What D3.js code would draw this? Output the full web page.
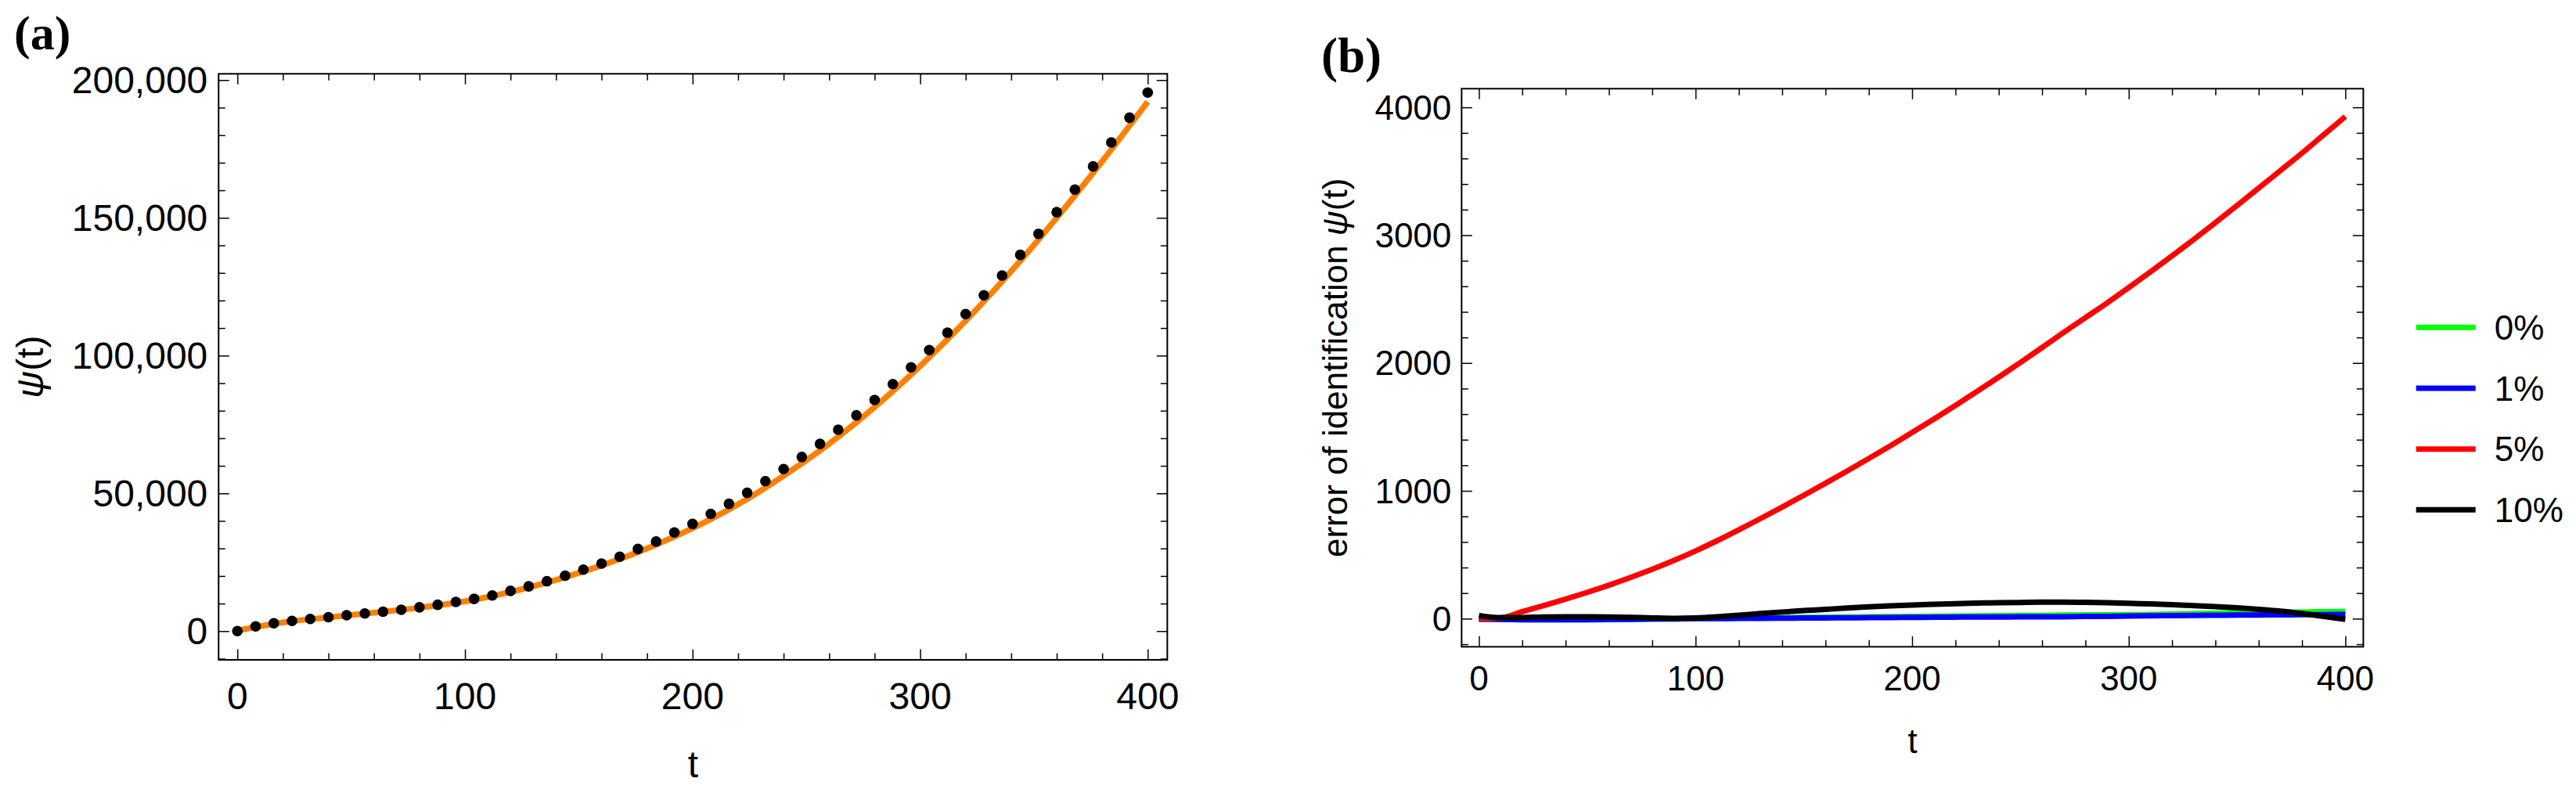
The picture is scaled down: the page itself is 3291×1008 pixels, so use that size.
<!DOCTYPE html>
<html>
<head>
<meta charset="utf-8">
<script src="https://cdn.jsdelivr.net/npm/d3@7"></script>
<style>
  html, body { margin: 0; padding: 0; background: #fff; }
  svg { display: block; }
</style>
</head>
<body>
<div id="chart"></div>
<script>
// ---------- data ----------
// panel (a): measured points every 8 time units
const dotT = [0, 8, 16, 24, 32, 40, 48, 56, 64, 72, 80, 88, 96, 104, 112, 120, 128, 136, 144, 152,
  160, 168, 176, 184, 192, 200, 208, 216, 224, 232, 240, 248, 256, 264, 272, 280, 288, 296, 304, 312,
  320, 328, 336, 344, 352, 360, 368, 376, 384, 392, 400];
const dotPsi = [0, 1700, 2850, 3700, 4400, 5050, 5750, 6400, 7050, 7750, 8650, 9550, 10600, 11700, 12950,
  14600, 16250, 18100, 20100, 22300, 24500, 27000, 29800, 32500, 35800, 38900, 42550, 46200, 50200,
  54400, 58800, 63200, 67950, 73100, 78300, 83900, 89650, 95750, 102000, 108300, 115050, 121900,
  129050, 136550, 144200, 152050, 160250, 168650, 177350, 186350, 195450];

// panel (a): identified model curve
const fitT = [0, 20, 40, 60, 80, 100, 120, 140, 160, 180, 200, 220, 240, 260, 280, 300, 320, 340, 360, 380, 400];
const fitPsi = [200, 3150, 5000, 6700, 8500, 10800, 14200, 18600, 23800, 30000, 37300, 46000, 56400,
  68000, 81300, 96200, 112600, 130600, 150000, 170500, 192100];

// panel (b): identification error for each noise level
const errT = [0, 10, 20, 30, 40, 50, 60, 70, 80, 90, 100, 110, 120, 130, 140, 150, 160, 170, 180, 190,
  200, 210, 220, 230, 240, 250, 260, 270, 280, 290, 300, 310, 320, 330, 340, 350, 360, 370, 380, 390, 400];
const err0 = [-4, -6, -8, -9, -9, -9, -8, -6, -4, -2, 0, 2, 4, 6, 8, 10, 11, 13, 14, 16,
  17, 19, 20, 22, 23, 25, 26, 28, 29, 30, 31, 33, 36, 39, 42, 45, 47, 50, 52, 55, 57];
const err1 = [-4, -6, -8, -9, -9, -8, -6, -5, -3, -2, 0, 1, 2, 3, 4, 5, 6, 7, 8, 9,
  10, 11, 12, 13, 13, 14, 14, 15, 17, 18, 20, 22, 24, 26, 27, 28, 29, 30, 31, 32, 33];
const err5 = [0, 6, 55, 103, 153, 206, 262, 322, 386, 455, 530, 610, 695, 783, 873, 965, 1059, 1155,
  1253, 1353, 1456, 1561, 1668, 1778, 1890, 2004, 2121, 2240, 2355, 2470, 2590, 2713, 2838, 2966,
  3098, 3232, 3368, 3505, 3642, 3785, 3928];
const err10 = [24, 8, 9, 13, 14, 14, 13, 10, 6, 3, 6, 15, 27, 40, 52, 63, 73, 83, 92, 100,
  107, 112, 117, 121, 125, 127, 129, 129, 128, 125, 120, 115, 109, 102, 94, 85, 73, 59, 40, 18, -5];

const seriesNames = ["0%", "1%", "5%", "10%"];
const seriesColors = ["#00ff00", "#0000ff", "#ff0000", "#000000"];
const seriesValues = [err0, err1, err5, err10];

// ticks
const tMajor = [0, 100, 200, 300, 400];
const psiMajor = [0, 50000, 100000, 150000, 200000];
const psiLabels = ["0", "50,000", "100,000", "150,000", "200,000"];
const errMajor = [0, 1000, 2000, 3000, 4000];
const errLabels = ["0", "1000", "2000", "3000", "4000"];

// ---------- layout ----------
const W = 3291, H = 1008;
const SANS = "'Liberation Sans', Arial, sans-serif";
const SERIF = "'Liberation Serif', 'Times New Roman', serif";

const svg = d3.select("#chart").append("svg")
  .attr("width", W).attr("height", H)
  .attr("viewBox", `0 0 ${W} ${H}`);

// draws frame + inward ticks on all four sides
function frame(g, x, y, xMaj, xMin, yMaj, yMin, xLab, yLab, fs, xPad, yPad) {
  const [x0, x1] = x.range();
  const [y0, y1] = y.range(); // y0 bottom, y1 top

  const sides = [
    { ax: d3.axisBottom, s: x, pos: `translate(0,${y0})` },
    { ax: d3.axisTop, s: x, pos: `translate(0,${y1})` },
    { ax: d3.axisLeft, s: y, pos: `translate(${x0},0)` },
    { ax: d3.axisRight, s: y, pos: `translate(${x1},0)` }
  ];
  sides.forEach((sd, i) => {
    const isX = i < 2;
    const maj = isX ? xMaj : yMaj, mn = isX ? xMin : yMin;
    [[mn, 8.5], [maj, 13.5]].forEach(([vals, len]) => {
      const a = sd.ax(sd.s).tickValues(vals).tickSize(-len).tickFormat("");
      const ga = g.append("g").attr("transform", sd.pos).call(a);
      ga.select(".domain").remove();
      ga.selectAll("line").attr("stroke", "#000").attr("stroke-width", 1.5);
    });
  });

  // labels, bottom and left only
  g.selectAll(null).data(xMaj).enter().append("text")
    .attr("x", d => x(d)).attr("y", y0 + xPad)
    .attr("text-anchor", "middle")
    .style("font-family", SANS).style("font-size", fs + "px")
    .text((d, i) => xLab[i]);
  g.selectAll(null).data(yMaj).enter().append("text")
    .attr("x", x0 - yPad).attr("y", d => y(d)).attr("dy", "0.355em")
    .attr("text-anchor", "end")
    .style("font-family", SANS).style("font-size", fs + "px")
    .text((d, i) => yLab[i]);

  g.append("rect")
    .attr("x", x0).attr("y", y1)
    .attr("width", x1 - x0).attr("height", y0 - y1)
    .attr("fill", "none").attr("stroke", "#000").attr("stroke-width", 2);
}

const minorOf = (lo, hi, step, maj) => d3.range(lo, hi + step / 2, step).filter(v => !maj.includes(v));

// ---------- panel (a) ----------
const xa = d3.scaleLinear().domain([-8.25, 408.6]).range([279.3, 1491.3]);
const ya = d3.scaleLinear().domain([-10430, 202270]).range([843, 94.3]);
const ga = svg.append("g");

ga.append("path")
  .datum(fitT.map((t, i) => [t, fitPsi[i]]))
  .attr("fill", "none").attr("stroke", "#ff8000").attr("stroke-width", 7.5)
  .attr("d", d3.line().x(d => xa(d[0])).y(d => ya(d[1])).curve(d3.curveMonotoneX));

ga.selectAll(".dot")
  .data(dotT.map((t, i) => [t, dotPsi[i]]))
  .enter().append("circle")
  .attr("class", "dot")
  .attr("cx", d => xa(d[0])).attr("cy", d => ya(d[1]))
  .attr("r", 6.8).attr("fill", "#000");

frame(ga, xa, ya, tMajor, minorOf(0, 400, 20, tMajor),
  psiMajor, minorOf(-10000, 200000, 10000, psiMajor),
  tMajor.map(String), psiLabels, 48, 63, 14);

ga.append("text")
  .attr("x", (xa.range()[0] + xa.range()[1]) / 2).attr("y", 993)
  .attr("text-anchor", "middle")
  .style("font-family", SANS).style("font-size", "48px")
  .text("t");

const yla = ga.append("text")
  .attr("transform", `translate(55,${(ya.range()[0] + ya.range()[1]) / 2}) rotate(-90)`)
  .attr("text-anchor", "middle")
  .style("font-family", SANS).style("font-size", "48px");
yla.append("tspan").style("font-style", "italic").text("ψ");
yla.append("tspan").text("(t)");

svg.append("text")
  .attr("x", 18).attr("y", 63)
  .style("font-family", SERIF).style("font-weight", "bold").style("font-size", "62px")
  .text("(a)");

// ---------- panel (b) ----------
const xb = d3.scaleLinear().domain([-8, 408.3]).range([1867.3, 3019.3]);
const yb = d3.scaleLinear().domain([-220, 4146]).range([826.3, 113.3]);
const gb = svg.append("g");

const lineB = d3.line().x(d => xb(d[0])).y(d => yb(d[1])).curve(d3.curveMonotoneX);
seriesValues.forEach((vals, k) => {
  gb.append("path")
    .datum(errT.map((t, i) => [t, vals[i]]))
    .attr("fill", "none").attr("stroke", seriesColors[k]).attr("stroke-width", 7)
    .attr("d", lineB);
});

frame(gb, xb, yb, tMajor, minorOf(0, 400, 20, tMajor),
  errMajor, minorOf(-200, 4000, 200, errMajor),
  tMajor.map(String), errLabels, 44, 56, 13);

gb.append("text")
  .attr("x", (xb.range()[0] + xb.range()[1]) / 2).attr("y", 962)
  .attr("text-anchor", "middle")
  .style("font-family", SANS).style("font-size", "44px")
  .text("t");

const ylb = gb.append("text")
  .attr("transform", `translate(1721,${(yb.range()[0] + yb.range()[1]) / 2}) rotate(-90)`)
  .attr("text-anchor", "middle")
  .style("font-family", SANS).style("font-size", "44px");
ylb.append("tspan").text("error of identification ");
ylb.append("tspan").style("font-style", "italic").text("ψ");
ylb.append("tspan").text("(t)");

svg.append("text")
  .attr("x", 1688).attr("y", 92)
  .style("font-family", SERIF).style("font-weight", "bold").style("font-size", "63px")
  .text("(b)");

// legend
const legendY = d3.scalePoint().domain(seriesNames).range([418.3, 651.3]);
const leg = svg.append("g").selectAll("g")
  .data(seriesNames).enter().append("g")
  .attr("transform", d => `translate(0,${legendY(d)})`);
leg.append("line")
  .attr("x1", 3086.7).attr("x2", 3162.7)
  .attr("stroke", (d, i) => seriesColors[i]).attr("stroke-width", 7);
leg.append("text")
  .attr("x", 3186.7).attr("dy", "0.355em")
  .style("font-family", SANS).style("font-size", "44px")
  .text(d => d);
</script>
</body>
</html>
